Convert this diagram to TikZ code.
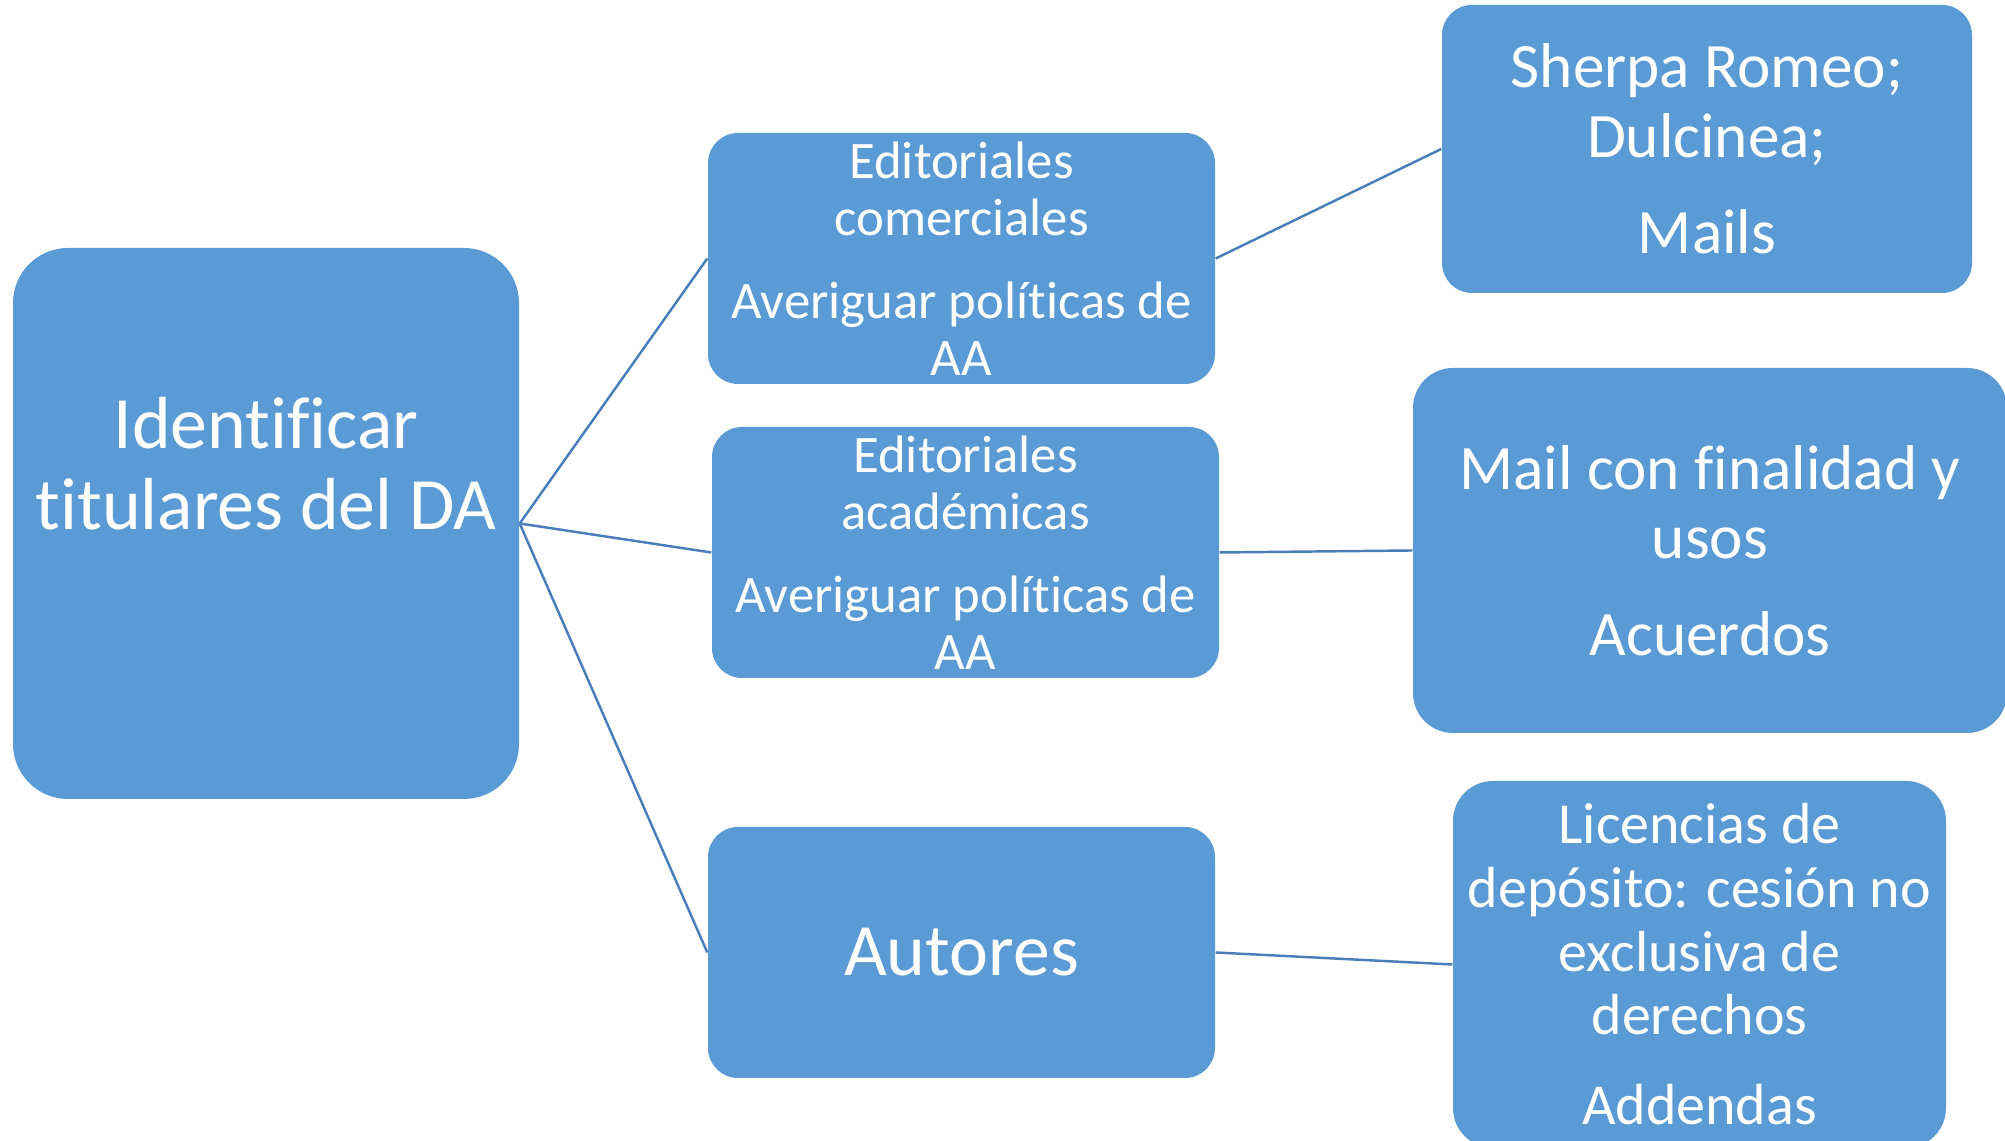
\documentclass[tikz,border=0pt]{standalone}
\usepackage{fontspec}
\setmainfont{Carlito}[Ligatures={NoCommon}]
\definecolor{cajaazul}{HTML}{5B9BD5}
\definecolor{lineaazul}{HTML}{4A7EBB}
\begin{document}
\begin{tikzpicture}[
	caja/.style={fill=cajaazul, text=white, align=center, inner sep=0pt, rounded corners=0.3cm},
	media/.style={caja, minimum width=5.07cm, minimum height=2.51cm, font=\fontsize{15}{16.3}\selectfont},
	enlace/.style={draw=lineaazul, line width=0.7pt}
]
	\useasboundingbox (0,0) rectangle (20.05,11.41);

	\node[caja, minimum width=5.06cm, minimum height=5.51cm, rounded corners=0.55cm,
		label={[text=white, align=center, font=\fontsize{21}{23.2}\selectfont, yshift=0.6cm]center:Identificar\\titulares del DA}] (raiz) at (2.66,6.175) {};

	\node[media] (comerciales) at (9.615,8.825) {Editoriales\\comerciales\\[7.2pt]Averiguar políticas de\\AA};
	\node[media] (academicas) at (9.655,5.885) {Editoriales\\académicas\\[7.2pt]Averiguar políticas de\\AA};
	\node[media, font=\fontsize{21}{23.2}\selectfont] (autores) at (9.615,1.885) {Autores};

	\node[caja, minimum width=5.30cm, minimum height=2.88cm, font=\fontsize{18}{19.8}\selectfont] (sherpa) at (17.07,9.92) {Sherpa Romeo;\\Dulcinea;\\[7.7pt]Mails};
	\node[caja, minimum width=5.94cm, minimum height=3.65cm, rounded corners=0.4cm, font=\fontsize{18}{19.8}\selectfont] (mail) at (17.10,5.905) {Mail con finalidad y\\usos\\[7.7pt]Acuerdos};
	\node[caja, minimum width=4.93cm, minimum height=3.67cm, rounded corners=0.4cm, font=\fontsize{16.5}{18.1}\selectfont] (licencias) at (16.995,1.765) {Licencias de\\depósito: cesión no\\exclusiva de\\derechos\\[7.6pt]Addendas};

	\draw[enlace] (raiz.east) -- (comerciales.west);
	\draw[enlace] (raiz.east) -- (academicas.west);
	\draw[enlace] (raiz.east) -- (autores.west);
	\draw[enlace] (comerciales.east) -- (sherpa.west);
	\draw[enlace] (academicas.east) -- (mail.west);
	\draw[enlace] (autores.east) -- (licencias.west);
\end{tikzpicture}
\end{document}
